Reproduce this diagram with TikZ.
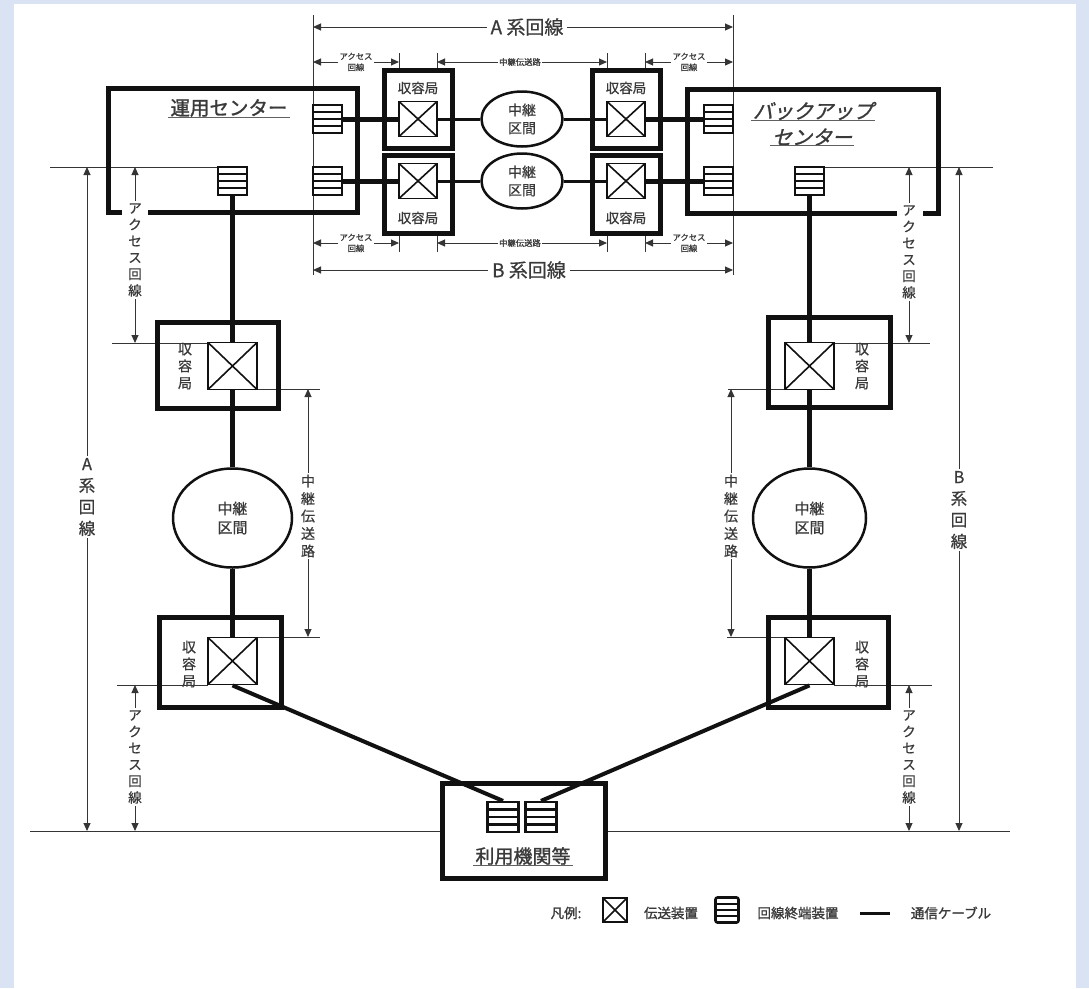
\documentclass[tikz,border=0pt]{standalone}
\usepackage{fontspec}
\setmainfont[FakeBold=0.7]{Noto Sans CJK JP}
\newfontfamily\jpm[FakeBold=0.7]{Noto Sans CJK JP}
\newfontfamily\jpb[FakeBold=1.3]{Noto Sans CJK JP}
\newfontfamily\jpbs[FakeBold=1.3,FakeSlant=0.25]{Noto Sans CJK JP}
\usetikzlibrary{shapes.geometric,arrows.meta,calc}
\definecolor{bgblue}{HTML}{DAE3F3}
\definecolor{ink}{HTML}{111111}
\definecolor{txt}{HTML}{3A3A3A}
\begin{document}
\begin{tikzpicture}[x=1pt,y=-1pt,
  station/.style={draw=ink, line width=5pt, inner sep=0},
  xbox/.style={draw=ink, fill=white, line width=1.8pt, minimum width=38pt, minimum height=35pt, inner sep=0,
    path picture={\draw[ink,line width=1.6pt] (path picture bounding box.north west) -- (path picture bounding box.south east) (path picture bounding box.north east) -- (path picture bounding box.south west);}},
  xbig/.style={xbox, minimum width=49pt, minimum height=47pt},
  term/.style={draw=ink, fill=white, line width=2.2pt, minimum width=29pt, minimum height=28pt, inner sep=0,
    path picture={\foreach \f in {0.25,0.5,0.75}{\draw[ink,line width=2.2pt] ($(path picture bounding box.north west)!\f!(path picture bounding box.south west)$) -- ($(path picture bounding box.north east)!\f!(path picture bounding box.south east)$);}}},
  relay/.style={ellipse, draw=ink, fill=white, line width=2.5pt, inner sep=0, align=center, text=txt, font=\jpm\fontsize{14}{18}\selectfont},
  thickc/.style={draw=ink, line width=5pt},
  thinc/.style={draw=ink, line width=3pt},
  diagc/.style={draw=ink, line width=4pt},
  refline/.style={draw=ink!85, line width=1pt},
  dimline/.style={draw=ink!85, line width=1pt, {Triangle[length=8pt,width=7pt]}-{Triangle[length=8pt,width=7pt]}},
  vlab/.style={fill=white, text=txt, align=center, font=\jpm\fontsize{13.5}{16.5}\selectfont, inner sep=2pt},
  vrlab/.style={vlab, font=\jpm\fontsize{14}{17.5}\selectfont},
  biglab/.style={fill=white, text=txt, align=center, font=\jpm\fontsize{19}{22}\selectfont, inner sep=4pt},
  tinylab/.style={fill=white, text=txt, align=center, font=\jpb\fontsize{8.3}{11}\selectfont, inner sep=1.5pt},
  stlab/.style={text=txt, align=center, font=\jpm\fontsize{13.5}{15}\selectfont, inner sep=0},
  vstlab/.style={text=txt, align=center, font=\jpm\fontsize{14}{17}\selectfont, inner sep=0},
  leglab/.style={text=txt, font=\jpb\fontsize{13.5}{15}\selectfont, inner sep=0}
]
\useasboundingbox (0,0) rectangle (1089,988);
\fill[bgblue] (0,0) rectangle (1089,988);
\fill[white] (14,4) rectangle (1076,988);

% ---------- top dimension lines ----------
\draw[refline] (313,15) -- (313,275);
\draw[refline] (733,15) -- (733,275);
\foreach \xx in {399,437,607,645}{
  \draw[refline] (\xx,53) -- (\xx,70);
  \draw[refline] (\xx,233) -- (\xx,252);
}
\draw[dimline] (313,27) -- (733,27);
\node[biglab] (labA) at (527,27) {A 系回線};
\draw[dimline] (313,62) -- (399,62);
\node[tinylab] (acc1) at (356,62) {アクセス\\回線};
\draw[dimline] (437,62) -- (607,62);
\node[tinylab] (rel1) at (520,62) {中継伝送路};
\draw[dimline] (645,62) -- (733,62);
\node[tinylab] (acc2) at (689,62) {アクセス\\回線};
\draw[dimline] (313,243) -- (399,243);
\node[tinylab] (acc3) at (356,243) {アクセス\\回線};
\draw[dimline] (437,243) -- (607,243);
\node[tinylab] (rel2) at (520,243) {中継伝送路};
\draw[dimline] (645,243) -- (733,243);
\node[tinylab] (acc4) at (689,243) {アクセス\\回線};
\draw[dimline] (313,270) -- (733,270);
\node[biglab] (labB) at (529,270) {B 系回線};

% ---------- side reference lines ----------
\draw[refline] (50,167) -- (218,167);
\draw[refline] (824,167) -- (993,167);
\draw[refline] (112,343) -- (208,343);
\draw[refline] (257,389) -- (320,389);
\draw[refline] (257,637) -- (320,637);
\draw[refline] (117,685) -- (208,685);
\draw[refline] (834,343) -- (930,343);
\draw[refline] (728,389) -- (785,389);
\draw[refline] (727,637) -- (785,637);
\draw[refline] (834,685) -- (932,685);
\draw[refline] (30,831) -- (442,831);
\draw[refline] (605,831) -- (1010,831);

% ---------- side dimension lines ----------
\draw[dimline] (135,167) -- (135,343);
\node[vlab] (vacc1) at (135,250) {ア\\ク\\セ\\ス\\回\\線};
\draw[dimline] (308,389) -- (308,637);
\node[vrlab] (vrel1) at (308,516) {中\\継\\伝\\送\\路};
\draw[dimline] (135,685) -- (135,831);
\node[vlab] (vacc2) at (135,757) {ア\\ク\\セ\\ス\\回\\線};
\draw[dimline] (87,167) -- (87,831);
\node[vlab, font=\jpm\fontsize{16.5}{21.5}\selectfont] (vA) at (87,497) {A\\系\\回\\線};
\draw[dimline] (909,167) -- (909,343);
\node[vlab] (vacc3) at (909,252) {ア\\ク\\セ\\ス\\回\\線};
\draw[dimline] (731,389) -- (731,637);
\node[vrlab] (vrel2) at (731,516) {中\\継\\伝\\送\\路};
\draw[dimline] (909,685) -- (909,831);
\node[vlab] (vacc4) at (909,757) {ア\\ク\\セ\\ス\\回\\線};
\draw[dimline] (959,167) -- (959,831);
\node[vlab, font=\jpm\fontsize{16.5}{21.5}\selectfont] (vB) at (959,510) {B\\系\\回\\線};

% ---------- centers ----------
\draw[ink, line width=5pt] (122,212) -- (108,212) -- (108,88) -- (357,88) -- (357,212) -- (148,212);
\node[text=txt, font=\jpb\fontsize{19.5}{22}\selectfont, inner sep=1pt] (lblO) at (229,108) {運用センター};
\draw[txt!80, line width=0.8pt] ($(lblO.south west)+(-1,-1)$) -- ($(lblO.south east)+(1,-1)$);
\draw[ink, line width=5pt] (923,213) -- (938,213) -- (938,89) -- (687,89) -- (687,213) -- (897,213);
\node[text=txt, font=\jpbs\fontsize{20}{22}\selectfont, inner sep=1pt] (lblK1) at (813,111) {バックアップ};
\draw[txt!80, line width=0.8pt] ($(lblK1.south west)+(-1,-1)$) -- ($(lblK1.south east)+(1,-1)$);
\node[text=txt, font=\jpbs\fontsize{20}{22}\selectfont, inner sep=1pt] (lblK2) at (812,137) {センター};
\draw[txt!80, line width=0.8pt] ($(lblK2.south west)+(-1,-1)$) -- ($(lblK2.south east)+(1,-1)$);

% terminals in centers
\node[term] (tO1) at (327.5,119) {};
\node[term] (tO2) at (327.5,181) {};
\node[term] (tO3) at (232.5,181) {};
\node[term] (tK1) at (718.5,119) {};
\node[term] (tK2) at (718.5,181) {};
\node[term] (tK3) at (809.5,181) {};

% ---------- top stations and relays ----------
\node[station, minimum width=68pt, minimum height=78pt] (sA1) at (418,109) {};
\node[station, minimum width=68pt, minimum height=78pt] (sA2) at (418,194) {};
\node[station, minimum width=68pt, minimum height=78pt] (sB1) at (626,109) {};
\node[station, minimum width=68pt, minimum height=78pt] (sB2) at (626,194) {};
\node[xbox] (xA1) at (418,119) {};
\node[xbox] (xA2) at (418,181) {};
\node[xbox] (xB1) at (626,119) {};
\node[xbox] (xB2) at (626,181) {};
\node[stlab] (lA1) at (418,88) {収容局};
\node[stlab] (lA2) at (418,218) {収容局};
\node[stlab] (lB1) at (626,88) {収容局};
\node[stlab] (lB2) at (626,218) {収容局};
\node[relay, minimum width=81pt, minimum height=55pt] (eA) at (522,119) {中継\\区間};
\node[relay, minimum width=81pt, minimum height=55pt] (eB) at (522,181) {中継\\区間};

\draw[thickc] (tO1.east) -- (xA1.west);
\draw[thinc] (xA1.east) -- (eA.west);
\draw[thinc] (eA.east) -- (xB1.west);
\draw[thickc] (xB1.east) -- (tK1.west);
\draw[thickc] (tO2.east) -- (xA2.west);
\draw[thinc] (xA2.east) -- (eB.west);
\draw[thinc] (eB.east) -- (xB2.west);
\draw[thickc] (xB2.east) -- (tK2.west);

% ---------- left chain ----------
\node[station, minimum width=121pt, minimum height=86pt] (sL1) at (217.5,365) {};
\node[xbig] (xL1) at (232.5,366) {};
\node[vstlab] (lL1) at (185,366) {収\\容\\局};
\node[relay, minimum width=119pt, minimum height=99pt, font=\jpm\fontsize{15}{19}\selectfont] (eL) at (232.5,518) {中継\\区間};
\node[station, minimum width=122pt, minimum height=90pt] (sL2) at (220,662) {};
\node[xbig] (xL2) at (232.5,661) {};
\node[vstlab] (lL2) at (189,664) {収\\容\\局};
\draw[thickc] (tO3.south) -- (xL1.north);
\draw[thickc] (xL1.south) -- (eL.north);
\draw[thickc] (eL.south) -- (xL2.north);

% ---------- right chain ----------
\node[station, minimum width=122pt, minimum height=90pt] (sR1) at (829,362) {};
\node[xbig] (xR1) at (809.5,366) {};
\node[vstlab] (lR1) at (862,366) {収\\容\\局};
\node[relay, minimum width=113pt, minimum height=99pt, font=\jpm\fontsize{15}{19}\selectfont] (eR) at (809.5,518) {中継\\区間};
\node[station, minimum width=120pt, minimum height=90pt] (sR2) at (828,662) {};
\node[xbig] (xR2) at (809.5,661) {};
\node[vstlab] (lR2) at (862,664) {収\\容\\局};
\draw[thickc] (tK3.south) -- (xR1.north);
\draw[thickc] (xR1.south) -- (eR.north);
\draw[thickc] (eR.south) -- (xR2.north);

% ---------- user site ----------
\node[station, minimum width=163pt, minimum height=95pt] (sU) at (523.5,830.5) {};
\node[term, minimum width=31pt, minimum height=30pt] (tU1) at (503,817) {};
\node[term, minimum width=31pt, minimum height=30pt] (tU2) at (541,817) {};
\node[text=txt, font=\jpb\fontsize{19}{22}\selectfont, inner sep=1pt] (lblU) at (523,856) {利用機関等};
\draw[txt!80, line width=0.8pt] ($(lblU.south west)+(-1,-1)$) -- ($(lblU.south east)+(1,-1)$);
\draw[diagc] (xL2.south) -- (tU1.north);
\draw[diagc] (xR2.south) -- (tU2.north);

% ---------- legend ----------
\node[leglab] (legT) at (566,913) {凡例:};
\node[xbox, minimum width=24pt, minimum height=24pt, line width=2.4pt] (legX) at (615,910) {};
\node[leglab] (legXl) at (671,913) {伝送装置};
\node[term, minimum width=23pt, minimum height=25pt, line width=2.6pt, rounded corners=2pt] (legTm) at (727,910) {};
\node[leglab] (legTl) at (798,913) {回線終端装置};
\coordinate (legC1) at (860,913);
\coordinate (legC2) at (890,913);
\draw[thinc] (legC1) -- (legC2);
\node[leglab] (legCl) at (951,913) {通信ケーブル};
\end{tikzpicture}
\end{document}
